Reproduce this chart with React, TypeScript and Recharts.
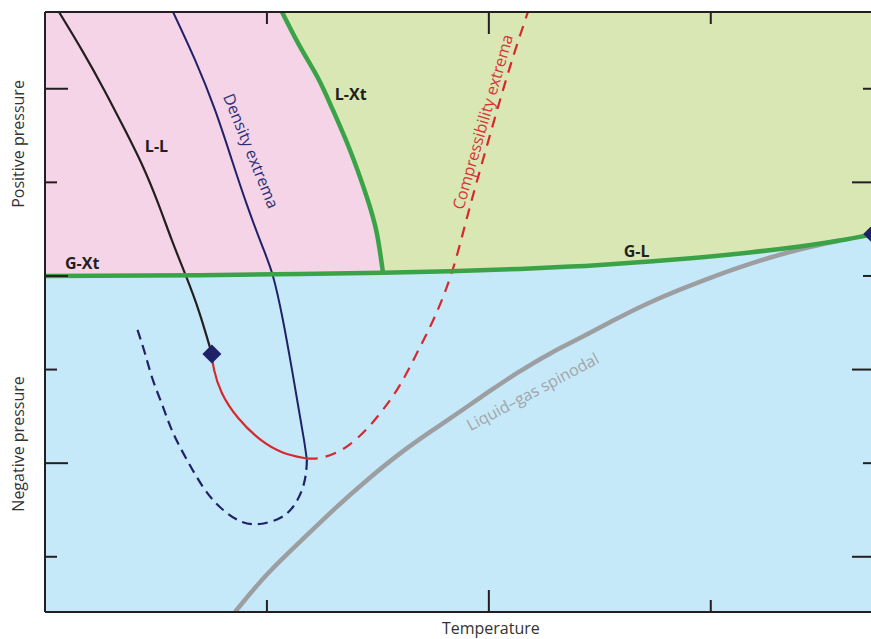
import React from 'react';
import { ComposedChart, Line, Area, XAxis, YAxis, CartesianGrid, ReferenceDot, ReferenceLine } from 'recharts';

// Axis domains (arbitrary units; 1 unit = one tick interval)
const X_MAX = 3.74;
const Y_MIN = -3.59;
const Y_MAX = 2.82;

// Tick values
const xTicksLong = [2];
const xTicksShort = [1, 3];
const yTicksA = [2, 0, -2];
const yTicksB = [1, -1, -3];

// Liquid-liquid coexistence line (ends at LL critical point)
const llLine = [
  { x: 0.063, y: 2.82 }, { x: 0.167, y: 2.41 }, { x: 0.266, y: 1.99 }, { x: 0.356, y: 1.58 },
  { x: 0.437, y: 1.19 }, { x: 0.509, y: 0.78 }, { x: 0.572, y: 0.38 }, { x: 0.635, y: 0.0 },
  { x: 0.694, y: -0.38 }, { x: 0.752, y: -0.833 },
];

// Density extrema (solid)
const densitySolid = [
  { x: 0.577, y: 2.82 }, { x: 0.676, y: 2.308 }, { x: 0.766, y: 1.774 }, { x: 0.842, y: 1.239 },
  { x: 0.91, y: 0.759 }, { x: 0.977, y: 0.331 }, { x: 1.027, y: 0.0 }, { x: 1.072, y: -0.47 },
  { x: 1.113, y: -1.004 }, { x: 1.144, y: -1.432 }, { x: 1.167, y: -1.752 }, { x: 1.18, y: -1.966 },
];

// Density extrema (dashed continuation)
const densityDashed = [
  { x: 1.18, y: -1.966 }, { x: 1.176, y: -2.105 }, { x: 1.158, y: -2.286 }, { x: 1.117, y: -2.468 },
  { x: 1.059, y: -2.585 }, { x: 0.968, y: -2.65 }, { x: 0.878, y: -2.618 }, { x: 0.788, y: -2.468 },
  { x: 0.712, y: -2.254 }, { x: 0.64, y: -1.966 }, { x: 0.577, y: -1.677 }, { x: 0.532, y: -1.4 },
  { x: 0.486, y: -1.111 }, { x: 0.45, y: -0.823 }, { x: 0.414, y: -0.556 },
];

// Compressibility extrema (solid part from LL critical point)
const comprSolid = [
  { x: 0.752, y: -0.833 }, { x: 0.757, y: -0.98 }, { x: 0.79, y: -1.25 }, { x: 0.865, y: -1.52 },
  { x: 0.968, y: -1.76 }, { x: 1.07, y: -1.9 }, { x: 1.18, y: -1.95 },
];

// Compressibility extrema (dashed)
const comprDashed = [
  { x: 1.18, y: -1.95 }, { x: 1.239, y: -1.955 }, { x: 1.315, y: -1.891 }, { x: 1.374, y: -1.806 },
  { x: 1.45, y: -1.645 }, { x: 1.523, y: -1.432 }, { x: 1.599, y: -1.186 }, { x: 1.676, y: -0.823 },
  { x: 1.757, y: -0.449 }, { x: 1.838, y: 0.032 }, { x: 1.901, y: 0.63 }, { x: 1.973, y: 1.239 },
  { x: 2.05, y: 1.88 }, { x: 2.108, y: 2.34 }, { x: 2.176, y: 2.82 },
];

// Gas-crystal coexistence
const gxtLine = [
  { x: 0, y: 0 }, { x: 0.698, y: 0.008 }, { x: 1.149, y: 0.02 }, { x: 1.523, y: 0.034 },
];

// Gas-liquid coexistence
const glLine = [
  { x: 1.523, y: 0.034 }, { x: 1.824, y: 0.05 }, { x: 2.14, y: 0.075 }, { x: 2.369, y: 0.1 },
  { x: 2.5, y: 0.118 }, { x: 2.725, y: 0.155 }, { x: 2.95, y: 0.198 }, { x: 3.176, y: 0.251 },
  { x: 3.401, y: 0.315 }, { x: 3.581, y: 0.379 }, { x: 3.74, y: 0.449 },
];

// Liquid-crystal coexistence
const lxtLine = [
  { x: 1.068, y: 2.82 }, { x: 1.149, y: 2.45 }, { x: 1.23, y: 2.115 }, { x: 1.297, y: 1.774 },
  { x: 1.374, y: 1.346 }, { x: 1.45, y: 0.844 }, { x: 1.495, y: 0.459 }, { x: 1.523, y: 0.034 },
];

// Liquid-gas spinodal
const spinodal = [
  { x: 0.856, y: -3.59 }, { x: 1.0, y: -3.173 }, { x: 1.149, y: -2.842 }, { x: 1.297, y: -2.5 },
  { x: 1.45, y: -2.179 }, { x: 1.599, y: -1.891 }, { x: 1.748, y: -1.645 }, { x: 1.901, y: -1.4 },
  { x: 1.991, y: -1.25 }, { x: 2.126, y: -1.036 }, { x: 2.275, y: -0.823 }, { x: 2.423, y: -0.652 },
  { x: 2.563, y: -0.47 }, { x: 2.743, y: -0.256 }, { x: 2.968, y: -0.043 }, { x: 3.194, y: 0.15 },
  { x: 3.419, y: 0.299 }, { x: 3.581, y: 0.379 },
];

// Liquid region (pink): between G-Xt and top / L-Xt
const liquidRegion = [
  { x: 0, r: [0, Y_MAX] }, { x: 0.698, r: [0.008, Y_MAX] }, { x: 1.068, r: [0.018, Y_MAX] },
  { x: 1.149, r: [0.02, 2.45] }, { x: 1.23, r: [0.024, 2.115] }, { x: 1.297, r: [0.027, 1.774] },
  { x: 1.374, r: [0.03, 1.346] }, { x: 1.45, r: [0.032, 0.844] }, { x: 1.495, r: [0.033, 0.459] },
  { x: 1.523, r: [0.034, 0.034] },
];

// Region above G-L / right of L-Xt (green)
const upperRegion = [
  { x: 1.068, r: [Y_MAX, Y_MAX] }, { x: 1.149, r: [2.45, Y_MAX] }, { x: 1.23, r: [2.115, Y_MAX] },
  { x: 1.297, r: [1.774, Y_MAX] }, { x: 1.374, r: [1.346, Y_MAX] }, { x: 1.45, r: [0.844, Y_MAX] },
  { x: 1.495, r: [0.459, Y_MAX] }, { x: 1.523, r: [0.034, Y_MAX] }, { x: 1.824, r: [0.05, Y_MAX] },
  { x: 2.14, r: [0.075, Y_MAX] }, { x: 2.369, r: [0.1, Y_MAX] }, { x: 2.5, r: [0.118, Y_MAX] },
  { x: 2.725, r: [0.155, Y_MAX] }, { x: 2.95, r: [0.198, Y_MAX] }, { x: 3.176, r: [0.251, Y_MAX] },
  { x: 3.401, r: [0.315, Y_MAX] }, { x: 3.581, r: [0.379, Y_MAX] }, { x: 3.74, r: [0.449, Y_MAX] },
];

// Critical points
const criticalPoints = [
  { x: 0.752, y: -0.833 },
  { x: 3.73, y: 0.449 },
];

// Phase boundary labels
const phaseLabels = [
  { text: 'G-Xt', x: 0.09, y: 0.075 },
  { text: 'L-L', x: 0.45, y: 1.325 },
  { text: 'L-Xt', x: 1.306, y: 1.88 },
  { text: 'G-L', x: 2.608, y: 0.203 },
];

// Curve labels
const curveLabels = [
  { text: 'Density extrema', x: 0.928, y: 1.335, angle: 68, color: '#2a2f78' },
  { text: 'Compressibility extrema', x: 1.973, y: 1.645, angle: -74, color: '#d8333a' },
  { text: 'Liquid–gas spinodal', x: 2.198, y: -1.239, angle: -28, color: '#a2a4a7' },
];

const FONT = '"Open Sans", "DejaVu Sans", sans-serif';
const INK = '#231f20';
const NAVY = '#1f2268';
const RED = '#d7282e';
const GREEN = '#3aa347';
const GRAY = '#9c9ea1';

const CHART_W = 880;
const CHART_H = 639;
const MARGIN = { top: 12, right: 5, bottom: 27, left: 45 };
const PX_X = (CHART_W - MARGIN.left - MARGIN.right) / X_MAX;
const PX_Y = (CHART_H - MARGIN.top - MARGIN.bottom) / (Y_MAX - Y_MIN);
const LONG = 23;
const SHORT = 12;

export default function App() {
  const tickLines: any[] = [];
  const addX = (t: number, len: number, key: string) => {
    tickLines.push(<ReferenceLine key={'b' + key} segment={[{ x: t, y: Y_MIN }, { x: t, y: Y_MIN + len / PX_Y }]} stroke={INK} strokeWidth={2} zIndex={700} />);
    tickLines.push(<ReferenceLine key={'t' + key} segment={[{ x: t, y: Y_MAX }, { x: t, y: Y_MAX - len / PX_Y }]} stroke={INK} strokeWidth={2} zIndex={700} />);
  };
  xTicksLong.forEach((t, i) => addX(t, LONG - 1, 'l' + i));
  xTicksShort.forEach((t, i) => addX(t, SHORT, 's' + i));
  yTicksA.forEach((t, i) => {
    tickLines.push(<ReferenceLine key={'la' + i} segment={[{ x: 0, y: t }, { x: LONG / PX_X, y: t }]} stroke={INK} strokeWidth={2} zIndex={700} />);
    tickLines.push(<ReferenceLine key={'ra' + i} segment={[{ x: X_MAX - SHORT / PX_X, y: t }, { x: X_MAX, y: t }]} stroke={INK} strokeWidth={2} zIndex={700} />);
  });
  yTicksB.forEach((t, i) => {
    tickLines.push(<ReferenceLine key={'lb' + i} segment={[{ x: 0, y: t }, { x: SHORT / PX_X, y: t }]} stroke={INK} strokeWidth={2} zIndex={700} />);
    tickLines.push(<ReferenceLine key={'rb' + i} segment={[{ x: X_MAX - LONG / PX_X, y: t }, { x: X_MAX, y: t }]} stroke={INK} strokeWidth={2} zIndex={700} />);
  });

  return (
    <div style={{ position: 'absolute', left: 0, top: 0, width: 871, height: 639, overflow: 'hidden', background: '#fff' }}>
      <ComposedChart width={CHART_W} height={CHART_H} margin={MARGIN}>
        <CartesianGrid horizontal={false} vertical={false} fill="#c6e9f9" fillOpacity={1} stroke="none" />
        <XAxis type="number" dataKey="x" domain={[0, X_MAX]} allowDataOverflow hide />
        <YAxis type="number" domain={[Y_MIN, Y_MAX]} allowDataOverflow hide />

        <Area data={liquidRegion} dataKey="r" type="monotone" fill="#f4d4e6" fillOpacity={1} stroke="none" isAnimationActive={false} activeDot={false} />
        <Area data={upperRegion} dataKey="r" type="monotone" fill="#d8e7b3" fillOpacity={1} stroke="none" isAnimationActive={false} activeDot={false} />

        <Line data={spinodal} dataKey="y" type="basis" stroke={GRAY} strokeWidth={4.5} dot={false} activeDot={false} isAnimationActive={false} />
        <Line data={llLine} dataKey="y" type="natural" stroke={INK} strokeWidth={2.2} dot={false} activeDot={false} isAnimationActive={false} />
        <Line data={densitySolid} dataKey="y" type="natural" stroke={NAVY} strokeWidth={2} dot={false} activeDot={false} isAnimationActive={false} />
        <Line data={densityDashed} dataKey="y" type="natural" stroke={NAVY} strokeWidth={2.2} strokeDasharray="10 6" dot={false} activeDot={false} isAnimationActive={false} />
        <Line data={comprSolid} dataKey="y" type="basis" stroke={RED} strokeWidth={2.2} dot={false} activeDot={false} isAnimationActive={false} />
        <Line data={comprDashed} dataKey="y" type="basis" stroke={RED} strokeWidth={2.2} strokeDasharray="11 8" dot={false} activeDot={false} isAnimationActive={false} />
        <Line data={gxtLine} dataKey="y" type="natural" stroke={GREEN} strokeWidth={4.5} dot={false} activeDot={false} isAnimationActive={false} />
        <Line data={glLine} dataKey="y" type="natural" stroke={GREEN} strokeWidth={4.5} dot={false} activeDot={false} isAnimationActive={false} />
        <Line data={lxtLine} dataKey="y" type="natural" stroke={GREEN} strokeWidth={4.5} dot={false} activeDot={false} isAnimationActive={false} />

        <ReferenceLine x={0} stroke={INK} strokeWidth={2} zIndex={700} />
        <ReferenceLine y={Y_MAX} stroke={INK} strokeWidth={2} zIndex={700} />
        <ReferenceLine y={Y_MIN} stroke={INK} strokeWidth={2} zIndex={700} />
        {tickLines}

        {criticalPoints.map((p, i) => (
          <ReferenceDot key={'cp' + i} x={p.x} y={p.y} ifOverflow="visible"
            shape={(s: any) => (
              <polygon points={`${s.cx},${s.cy - 9.5} ${s.cx + 9.5},${s.cy} ${s.cx},${s.cy + 9.5} ${s.cx - 9.5},${s.cy}`} fill={NAVY} />
            )} />
        ))}

        {phaseLabels.map((l, i) => (
          <ReferenceDot key={'pl' + i} x={l.x} y={l.y} ifOverflow="visible"
            shape={(s: any) => (
              <text x={s.cx} y={s.cy} textAnchor="start" fontFamily={FONT} fontWeight={700} fontSize={16} fill={INK}>{l.text}</text>
            )} />
        ))}

        {curveLabels.map((l, i) => (
          <ReferenceDot key={'cl' + i} x={l.x} y={l.y} ifOverflow="visible"
            shape={(s: any) => (
              <text x={s.cx} y={s.cy} dy="0.35em" transform={`rotate(${l.angle} ${s.cx} ${s.cy})`} textAnchor="middle"
                fontFamily={FONT} fontSize={16} fill={l.color}>{l.text}</text>
            )} />
        ))}

        <ReferenceDot x={0} y={Y_MAX / 2} ifOverflow="visible"
          shape={(s: any) => (
            <text x={s.cx - 21} y={s.cy} transform={`rotate(-90 ${s.cx - 21} ${s.cy})`} textAnchor="middle"
              fontFamily={FONT} fontSize={16} fill="#333">Positive pressure</text>
          )} />
        <ReferenceDot x={0} y={Y_MIN / 2} ifOverflow="visible"
          shape={(s: any) => (
            <text x={s.cx - 21} y={s.cy} transform={`rotate(-90 ${s.cx - 21} ${s.cy})`} textAnchor="middle"
              fontFamily={FONT} fontSize={16} fill="#333">Negative pressure</text>
          )} />
        <ReferenceDot x={2} y={Y_MIN} ifOverflow="visible"
          shape={(s: any) => (
            <text x={s.cx + 2} y={s.cy + 22} textAnchor="middle" fontFamily={FONT} fontSize={16} fill="#333">Temperature</text>
          )} />
      </ComposedChart>
    </div>
  );
}
